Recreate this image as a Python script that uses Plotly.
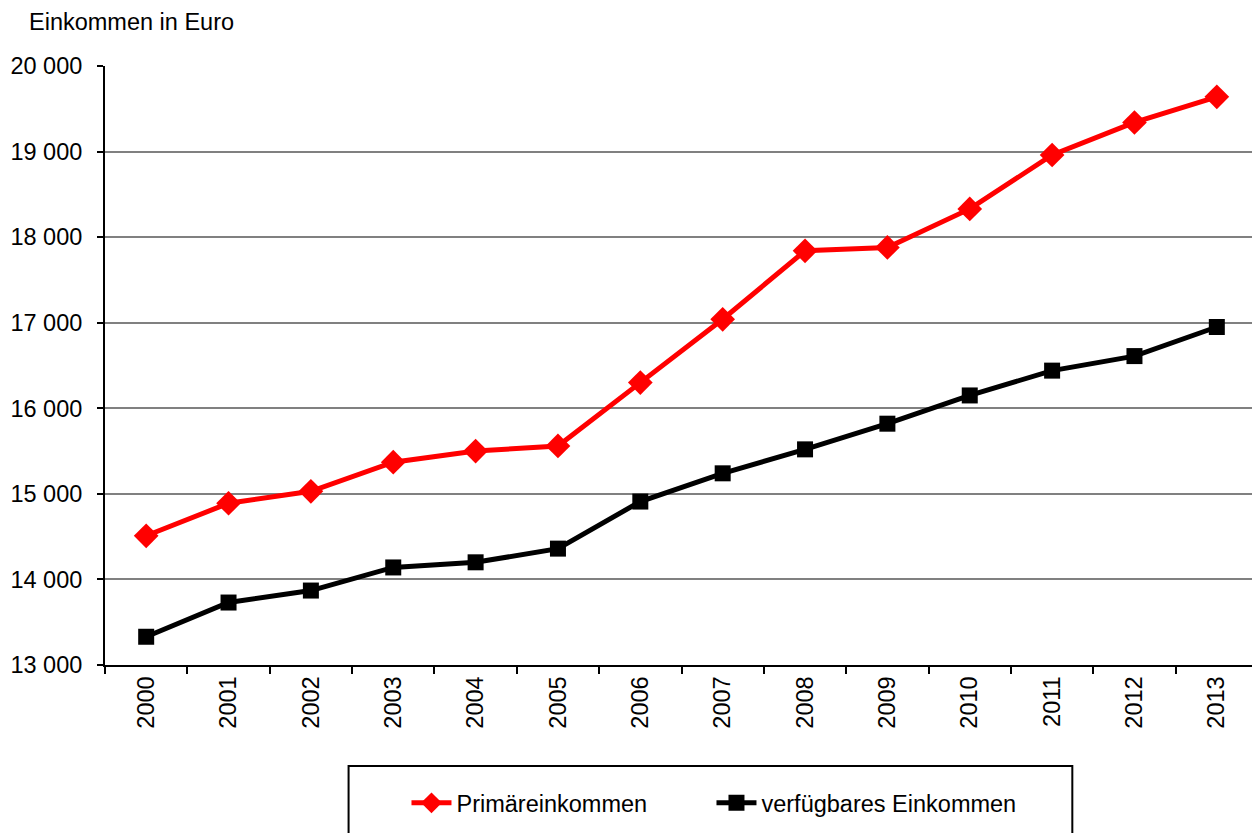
import plotly.graph_objects as go

# Daten
JAHRE = [str(j) for j in range(2000, 2014)]
PRIMAER = [14510, 14890, 15030, 15370, 15500, 15560, 16300, 17040,
           17840, 17880, 18330, 18960, 19340, 19640]
VERFUEGBAR = [13330, 13730, 13870, 14140, 14200, 14360, 14910, 15240,
              15520, 15820, 16150, 16440, 16610, 16950]

COR_ROT = "#FF0000"
COR_SCHWARZ = "#000000"
SCHRIFT = "Liberation Sans, Arial, sans-serif"
GROESSE = 23.5

# Seite hat 8px Rand -> Figur etwas kleiner
B, H = 1252, 825
L, T, BOT = 95, 58, 168
PW = B - L - 2
PH = H - T - BOT

fig = go.Figure()
fig.add_trace(go.Scatter(
    x=JAHRE, y=PRIMAER, mode="lines+markers",
    name="Primäreinkommen",
    line=dict(color=COR_ROT, width=5),
    marker=dict(symbol="diamond", size=19, color=COR_ROT),
))
fig.add_trace(go.Scatter(
    x=JAHRE, y=VERFUEGBAR, mode="lines+markers",
    name="verfügbares Einkommen",
    line=dict(color=COR_SCHWARZ, width=5),
    marker=dict(symbol="square", size=16, color=COR_SCHWARZ),
))

# Rahmen der Legende (Pixel im Referenzbild, minus 8px Seitenrand)
fig.add_shape(type="rect", xref="paper", yref="paper",
              x0=(347 - 8 - L) / PW, x1=(1072 - 8 - L) / PW,
              y0=-0.4, y1=-(766 - 665) / PH,
              line=dict(color="black", width=2), fillcolor="white",
              layer="below")

fig.add_annotation(text="Einkommen in Euro", xref="paper", yref="paper",
                   x=0, y=1, xanchor="left", yanchor="middle",
                   xshift=-(103 - 25), yshift=44, showarrow=False,
                   font=dict(size=GROESSE, color="black", family=SCHRIFT))

fig.update_layout(
    width=B, height=H,
    margin=dict(l=L, r=2, t=T, b=BOT),
    paper_bgcolor="white", plot_bgcolor="white",
    font=dict(family=SCHRIFT, size=GROESSE, color="black"),
    separators=", ",
    showlegend=True,
    legend=dict(orientation="h", xanchor="left", x=(405 - 8 - L) / PW,
                yanchor="middle", y=-(803 - 665) / PH,
                font=dict(size=GROESSE), bgcolor="rgba(0,0,0,0)",
                itemwidth=40, tracegroupgap=0, entrywidth=250),
    xaxis=dict(type="category", tickangle=-90, tickson="boundaries",
               ticks="outside", ticklen=7, tickwidth=2, tickcolor="black",
               showline=True, linecolor="black", linewidth=2,
               showgrid=False, range=[-0.5, 13.5],
               tickfont=dict(size=GROESSE)),
    yaxis=dict(range=[13000, 20000], dtick=1000, tickformat=",d",
               ticks="outside", ticklen=6, tickwidth=2, tickcolor="black",
               showline=True, linecolor="black", linewidth=2,
               showgrid=True, gridcolor="#808080", gridwidth=2,
               zeroline=False, ticklabelstandoff=10,
               tickfont=dict(size=GROESSE)),
)

fig.write_html("out.html")
